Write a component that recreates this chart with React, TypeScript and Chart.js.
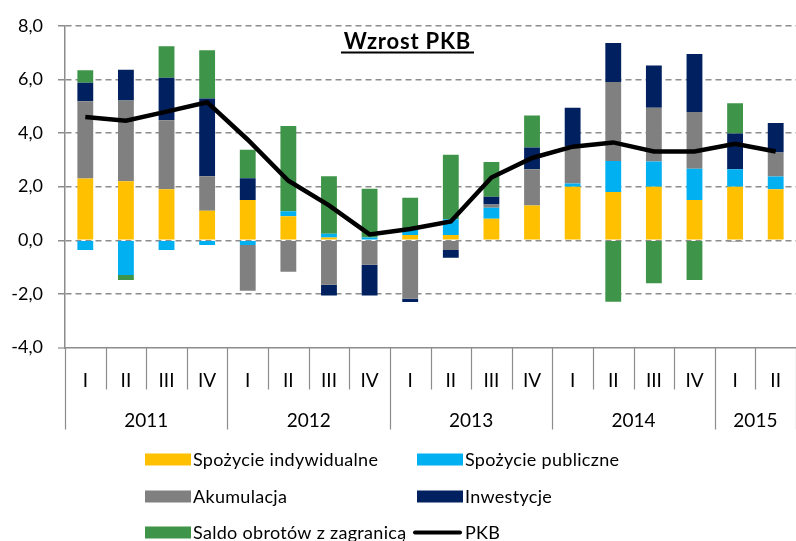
import React, { useEffect, useRef } from 'react';
import { Chart, registerables } from 'chart.js';

Chart.register(...registerables);

const quarters = ['I', 'II', 'III', 'IV', 'I', 'II', 'III', 'IV', 'I', 'II', 'III', 'IV', 'I', 'II', 'III', 'IV', 'I', 'II'];
const years = ['2011', '2012', '2013', '2014', '2015'];
const yearSpans = [4, 4, 4, 4, 2];

const spozycieIndywidualne = [2.3, 2.2, 1.9, 1.1, 1.5, 0.9, 0.1, 0.0, 0.2, 0.2, 0.8, 1.3, 2.0, 1.8, 2.0, 1.5, 2.0, 1.9];
const spozyciePubliczne = [-0.36, -1.3, -0.36, -0.18, -0.18, 0.18, 0.14, 0.1, 0.2, 0.58, 0.41, 0.0, 0.12, 1.16, 0.94, 1.17, 0.65, 0.48];
const akumulacja = [2.89, 3.01, 2.58, 1.29, -1.7, -1.17, -1.66, -0.91, -2.18, -0.36, 0.12, 1.35, 1.39, 2.94, 2.0, 2.11, -0.05, 0.89];
const inwestycje = [0.69, 1.15, 1.58, 2.9, 0.81, 0.0, -0.4, -1.15, -0.12, -0.29, 0.29, 0.81, 1.43, 1.46, 1.58, 2.17, 1.33, 1.1];
const saldoObrotow = [0.46, -0.18, 1.18, 1.8, 1.07, 3.18, 2.15, 1.82, 1.19, 2.41, 1.3, 1.19, 0.0, -2.29, -1.6, -1.48, 1.13, 0.0];
const pkb = [4.6, 4.46, 4.8, 5.15, 3.75, 2.22, 1.3, 0.22, 0.42, 0.7, 2.34, 3.07, 3.49, 3.65, 3.31, 3.31, 3.6, 3.31];

const yTicks = [8, 6, 4, 2, 0, -2, -4];

const COLORS = {
  ind: '#FFC000',
  pub: '#00B0F0',
  aku: '#808080',
  inw: '#002060',
  saldo: '#3E9448',
  pkb: '#000000',
};

const legendItems = [
  { label: 'Spożycie indywidualne', color: COLORS.ind, type: 'box' },
  { label: 'Spożycie publiczne', color: COLORS.pub, type: 'box' },
  { label: 'Akumulacja', color: COLORS.aku, type: 'box' },
  { label: 'Inwestycje', color: COLORS.inw, type: 'box' },
  { label: 'Saldo obrotów z zagranicą', color: COLORS.saldo, type: 'box' },
  { label: 'PKB', color: COLORS.pkb, type: 'line' },
];

const title = 'Wzrost PKB';
const FONT = 'Lato, "Open Sans", sans-serif';
const AXIS_GRAY = '#8C8C8C';

const overlayPlugin = {
  id: 'overlay',
  afterDraw(chart: any) {
    const { ctx, chartArea } = chart;
    const left = chartArea.left;
    const right = chartArea.right;
    const bottom = chartArea.bottom;
    const n = quarters.length;
    const w = (right - left) / n;
    ctx.save();

    // separators
    ctx.strokeStyle = AXIS_GRAY;
    ctx.lineWidth = 1.2;
    const yearBounds = new Set<number>();
    let acc = 0;
    yearBounds.add(0);
    yearSpans.forEach((s) => {
      acc += s;
      yearBounds.add(acc);
    });
    for (let k = 0; k <= n; k++) {
      const x = Math.round(left + k * w) + 0.5;
      const len = yearBounds.has(k) ? 82 : 42;
      ctx.beginPath();
      ctx.moveTo(x, bottom);
      ctx.lineTo(x, bottom + len);
      ctx.stroke();
    }
    // small tick left of axis at bottom
    ctx.beginPath();
    ctx.moveTo(left - 7, bottom + 0.5);
    ctx.lineTo(left, bottom + 0.5);
    ctx.stroke();

    // quarter labels
    ctx.fillStyle = '#000';
    ctx.font = `19px ${FONT}`;
    ctx.textAlign = 'center';
    ctx.textBaseline = 'alphabetic';
    quarters.forEach((q, i) => {
      ctx.fillText(q, left + (i + 0.5) * w, 386.5);
    });
    // year labels
    let start = 0;
    years.forEach((yname, j) => {
      const span = yearSpans[j];
      ctx.fillText(yname, left + (start + span / 2) * w, 427);
      start += span;
    });

    // title
    ctx.font = `bold 22px ${FONT}`;
    ctx.textAlign = 'left';
    ctx.textBaseline = 'alphabetic';
    try {
      (ctx as any).letterSpacing = '0.8px';
    } catch (e) {}
    const tw = ctx.measureText(title).width;
    const tx = 407.5 - tw / 2;
    ctx.fillText(title, tx, 48.5);
    try {
      (ctx as any).letterSpacing = '0px';
    } catch (e) {}
    ctx.fillRect(341, 51.5, 133, 2);

    // legend
    ctx.font = `18px ${FONT}`;
    try {
      (ctx as any).letterSpacing = '0.3px';
    } catch (e) {}
    ctx.textAlign = 'left';
    ctx.textBaseline = 'alphabetic';
    const colX = [145, 417];
    const rowY = [459.5, 496.5, 532.5];
    legendItems.forEach((item, i) => {
      const cx = colX[i % 2];
      const cy = rowY[Math.floor(i / 2)];
      if (item.type === 'box') {
        ctx.fillStyle = item.color;
        ctx.fillRect(cx, cy - 6, 46, 12);
      } else {
        ctx.strokeStyle = item.color;
        ctx.lineWidth = 4;
        ctx.lineCap = 'round';
        ctx.beginPath();
        ctx.moveTo(cx - 2, cy);
        ctx.lineTo(cx + 43, cy);
        ctx.stroke();
      }
      ctx.fillStyle = '#000';
      ctx.fillText(item.label, cx + 48, cy + 6.5);
    });
    ctx.restore();
  },
};

export default function App() {
  const ref = useRef<HTMLCanvasElement>(null);
  useEffect(() => {
    if (!ref.current) return;
    const barCommon = { type: 'bar' as const, stack: 'a', order: 1, barPercentage: 0.39, categoryPercentage: 1 };
    const chart = new Chart(ref.current, {
      type: 'bar',
      data: {
        labels: quarters,
        datasets: [
          { ...barCommon, label: legendItems[0].label, data: spozycieIndywidualne, backgroundColor: COLORS.ind },
          { ...barCommon, label: legendItems[1].label, data: spozyciePubliczne, backgroundColor: COLORS.pub },
          { ...barCommon, label: legendItems[2].label, data: akumulacja, backgroundColor: COLORS.aku },
          { ...barCommon, label: legendItems[3].label, data: inwestycje, backgroundColor: COLORS.inw },
          { ...barCommon, label: legendItems[4].label, data: saldoObrotow, backgroundColor: COLORS.saldo },
          {
            type: 'line' as const,
            label: 'PKB',
            data: pkb,
            stack: 'pkb',
            order: 0,
            borderColor: COLORS.pkb,
            borderWidth: 4.5,
            pointRadius: 0,
            tension: 0,
            fill: false,
          } as any,
        ],
      },
      options: {
        animation: false,
        responsive: false,
        devicePixelRatio: 1,
        layout: { padding: { top: 18, right: 0, bottom: 0, left: 0 } },
        plugins: { legend: { display: false }, tooltip: { enabled: false }, title: { display: false } },
        scales: {
          x: {
            stacked: true,
            grid: { display: false },
            ticks: { display: false },
            border: { display: true, color: AXIS_GRAY, width: 1.5 },
            afterFit: (s: any) => {
              s.height = 193.5;
            },
          },
          y: {
            stacked: true,
            min: -4,
            max: 8,
            afterBuildTicks: (s: any) => {
              s.ticks = yTicks.map((v) => ({ value: v }));
            },
            ticks: {
              color: '#000',
              font: { family: FONT, size: 18 },
              padding: 15,
              callback: (v: any) => Number(v).toFixed(1).replace('.', ','),
            },
            grid: {
              color: (c: any) => (c.tick && c.tick.value === -4 ? 'rgba(0,0,0,0)' : AXIS_GRAY),
              lineWidth: 1.5,
              tickLength: 7,
            },
            border: { display: true, color: AXIS_GRAY, width: 1.5, dash: [6, 4] },
            afterFit: (s: any) => {
              s.width = 65;
            },
          },
        },
      },
      plugins: [overlayPlugin],
    });
    return () => chart.destroy();
  }, []);
  return (
    <div style={{ position: 'absolute', left: 0, top: 0, width: 796, height: 541, background: '#fff' }}>
      <canvas ref={ref} width={796} height={541} style={{ display: 'block' }} />
    </div>
  );
}
